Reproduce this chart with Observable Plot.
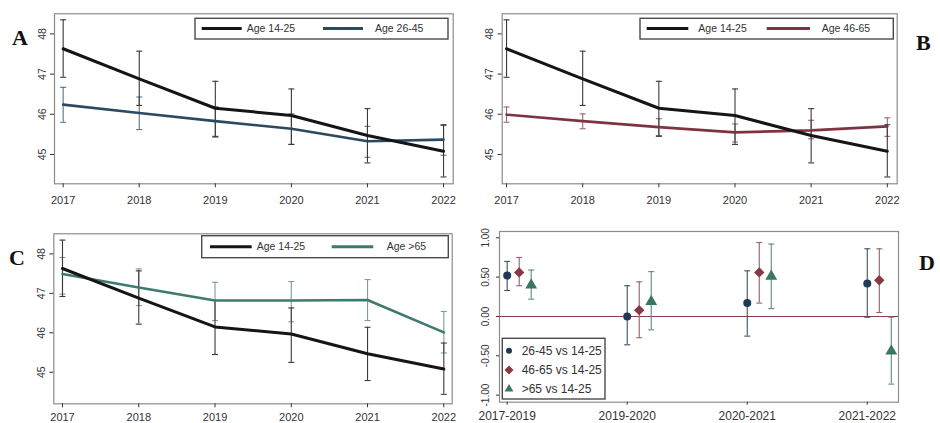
<!DOCTYPE html>
<html>
<head>
<meta charset="utf-8">
<script src="https://cdn.jsdelivr.net/npm/d3@7"></script>
<script src="https://cdn.jsdelivr.net/npm/@observablehq/plot@0.6"></script>
<style>
  html, body { margin: 0; padding: 0; background: #fff; }
  #wrap { position: relative; width: 940px; height: 423px; overflow: hidden; font-family: "Liberation Sans", Arial, sans-serif; }
  .panel { position: absolute; }
  #overlay { position: absolute; left: 0; top: 0; pointer-events: none; }
</style>
</head>
<body>
<div id="wrap"></div>
<script>
// ---------- DATA ----------
const years = [2017, 2018, 2019, 2020, 2021, 2022];
const yTicksAge = [45, 46, 47, 48];

const age1425   = [47.63, 46.88, 46.15, 45.97, 45.47, 45.08];
const age1425Lo = [46.92, 46.22, 45.45, 45.25, 44.79, 44.44];
const age1425Hi = [48.35, 47.57, 46.82, 46.63, 46.14, 45.74];

const age2645   = [46.24, 46.03, 45.83, 45.64, 45.33, 45.37];
const age2645Lo = [45.80, 45.62, 45.43, 45.25, 44.93, 44.98];
const age2645Hi = [46.67, 46.43, 46.19, 46.01, 45.70, 45.72];

const age4665   = [45.99, 45.83, 45.68, 45.55, 45.60, 45.70];
const age4665Lo = [45.80, 45.64, 45.47, 45.31, 45.39, 45.45];
const age4665Hi = [46.18, 46.01, 45.89, 45.76, 45.85, 45.91];

const age65     = [47.49, 47.15, 46.82, 46.82, 46.83, 46.01];
const age65Lo   = [46.98, 46.69, 46.31, 46.28, 46.31, 45.49];
const age65Hi   = [47.91, 47.62, 47.28, 47.30, 47.35, 46.54];

const periods = ["2017-2019", "2019-2020", "2020-2021", "2021-2022"];
const cmpLabels = ["26-45 vs 14-25", "46-65 vs 14-25", ">65 vs 14-25"];
const dTicks = [-1, -0.5, 0, 0.5, 1];

const d2645   = [0.52, 0.00, 0.17, 0.42];
const d2645Lo = [0.33, -0.36, -0.25, -0.01];
const d2645Hi = [0.70, 0.39, 0.58, 0.86];

const d4665   = [0.56, 0.08, 0.56, 0.46];
const d4665Lo = [0.39, -0.27, 0.17, 0.05];
const d4665Hi = [0.75, 0.44, 0.94, 0.86];

const d65     = [0.40, 0.19, 0.51, -0.44];
const d65Lo   = [0.22, -0.17, 0.10, -0.86];
const d65Hi   = [0.59, 0.57, 0.92, -0.01];

// ---------- STYLE ----------
const C_BLACK = "#151515", C_BLACK_ERR = "#3a3a3a";
const C_BLUE = "#2b4a62", C_BLUE_ERR = "#5d7585";
const C_RED = "#7e3440", C_RED_ERR = "#9a6870";
const C_TEAL = "#3f7a70", C_TEAL_ERR = "#7f9d97";
const FONT = "'Liberation Sans', Arial, sans-serif";

const capSym = { draw(ctx) { ctx.moveTo(-3, 0); ctx.lineTo(3, 0); } };
const wideDiamond = { draw(ctx) { const a = 5.2; ctx.moveTo(0, -a); ctx.lineTo(a, 0); ctx.lineTo(0, a); ctx.lineTo(-a, 0); ctx.closePath(); } };

const wrap = document.getElementById("wrap");

function place(node, left, top) {
  node.classList.add("panel");
  node.style.left = left + "px";
  node.style.top = top + "px";
  wrap.appendChild(node);
}

function seriesRows(name, vals, lo, hi) {
  return years.map((yr, i) => ({ key: name, year: yr, v: vals[i], lo: lo[i], hi: hi[i] }));
}

function linePanel(cfg) {
  const marks = [Plot.frame({ stroke: "#8c8c8c", strokeWidth: 1.2 })];
  const errMarks = [], lineMarks = [];
  cfg.series.forEach(s => {
    const rows = seriesRows(s.name, s.vals, s.lo, s.hi);
    errMarks.push(Plot.ruleX(rows, { x: "year", y1: "lo", y2: "hi", stroke: s.err, strokeWidth: 1.1 }));
    errMarks.push(Plot.dot(rows, { x: "year", y: "hi", symbol: capSym, stroke: s.err, fill: "none", strokeWidth: 1.1 }));
    errMarks.push(Plot.dot(rows, { x: "year", y: "lo", symbol: capSym, stroke: s.err, fill: "none", strokeWidth: 1.1 }));
    lineMarks.push(Plot.line(rows, { x: "year", y: "v", stroke: s.color, strokeWidth: s.w }));
  });
  const lm = lineMarks.slice().reverse();
  marks.push(...errMarks.slice(3), ...errMarks.slice(0, 3), ...lm);
  marks.push(Plot.axisY({ ticks: yTicksAge, tickFormat: d => String(d), tickRotate: -90, tickSize: 4, tickPadding: 5, label: null, fontSize: 10.5, color: "#333" }));
  marks.push(Plot.axisX({ ticks: years, tickFormat: d => String(d), tickSize: 4, tickPadding: cfg.xPad, label: null, fontSize: 11, color: "#333" }));
  const p = Plot.plot({
    width: cfg.width, height: cfg.height,
    marginLeft: cfg.ml, marginRight: cfg.mr, marginTop: cfg.mt, marginBottom: cfg.mb,
    x: { domain: cfg.xDomain },
    y: { domain: cfg.yDomain },
    style: { fontFamily: FONT, fontSize: "11px", color: "#333", background: "transparent", overflow: "visible" },
    marks
  });
  place(p, cfg.left, cfg.top);
}

// Panel A
linePanel({
  left: 0, top: 0, width: 470, height: 215, ml: 54, mr: 17.3, mt: 13.3, mb: 31.7, xPad: 8,
  xDomain: [2016.886, 2022.127], yDomain: [44.27, 48.5],
  series: [
    { name: "Age 14-25", vals: age1425, lo: age1425Lo, hi: age1425Hi, color: C_BLACK, err: C_BLACK_ERR, w: 3 },
    { name: "Age 26-45", vals: age2645, lo: age2645Lo, hi: age2645Hi, color: C_BLUE, err: C_BLUE_ERR, w: 2.6 }
  ]
});
// Panel B
linePanel({
  left: 470, top: 0, width: 470, height: 215, ml: 31.7, mr: 43.3, mt: 13.3, mb: 31.7, xPad: 8,
  xDomain: [2016.943, 2022.13], yDomain: [44.27, 48.5],
  series: [
    { name: "Age 14-25", vals: age1425, lo: age1425Lo, hi: age1425Hi, color: C_BLACK, err: C_BLACK_ERR, w: 3 },
    { name: "Age 46-65", vals: age4665, lo: age4665Lo, hi: age4665Hi, color: C_RED, err: C_RED_ERR, w: 2.6 }
  ]
});
// Panel C
linePanel({
  left: 0, top: 215, width: 470, height: 208, ml: 53.3, mr: 18.3, mt: 18.3, mb: 19.7, xPad: 5,
  xDomain: [2016.886, 2022.11], yDomain: [44.2, 48.51],
  series: [
    { name: "Age 14-25", vals: age1425, lo: age1425Lo, hi: age1425Hi, color: C_BLACK, err: C_BLACK_ERR, w: 3 },
    { name: "Age >65", vals: age65, lo: age65Lo, hi: age65Hi, color: C_TEAL, err: C_TEAL_ERR, w: 2.6 }
  ]
});

// Panel D
(function () {
  const dSeries = [
    { vals: d2645, lo: d2645Lo, hi: d2645Hi, color: "#1f3a55", err: "#3d5263", symbol: "circle", r: 4 },
    { vals: d4665, lo: d4665Lo, hi: d4665Hi, color: "#873845", err: "#94606a", symbol: wideDiamond, r: 4.6 },
    { vals: d65,   lo: d65Lo,   hi: d65Hi,   color: "#3a7668", err: "#5f8a80", symbol: "triangle", r: 4.4 }
  ];
  const marks = [
    Plot.frame({ stroke: "#8c8c8c", strokeWidth: 1.2 }),
    Plot.ruleY([0], { stroke: "#8e3c48", strokeWidth: 1.1 })
  ];
  dSeries.forEach((s, k) => {
    const rows = periods.map((p, i) => ({ pos: i + k * 0.1, v: s.vals[i], lo: s.lo[i], hi: s.hi[i] }));
    marks.push(Plot.ruleX(rows, { x: "pos", y1: "lo", y2: "hi", stroke: s.err, strokeWidth: 1.1 }));
    marks.push(Plot.dot(rows, { x: "pos", y: "hi", symbol: capSym, stroke: s.err, fill: "none", strokeWidth: 1.1 }));
    marks.push(Plot.dot(rows, { x: "pos", y: "lo", symbol: capSym, stroke: s.err, fill: "none", strokeWidth: 1.1 }));
    s.rows = rows;
  });
  dSeries.forEach(s => {
    marks.push(Plot.dot(s.rows, { x: "pos", y: "v", symbol: s.symbol, r: s.r, fill: s.color, stroke: "none" }));
  });
  marks.push(Plot.axisY({ ticks: dTicks, tickFormat: d => d.toFixed(2), tickRotate: -90, tickSize: 3, tickPadding: 8, label: null, fontSize: 10, color: "#333" }));
  marks.push(Plot.axisX({ ticks: [0, 1, 2, 3], tickFormat: i => periods[i], tickSize: 3, tickPadding: 6, label: null, fontSize: 12, color: "#333" }));
  const p = Plot.plot({
    width: 470, height: 208,
    marginLeft: 29, marginRight: 42, marginTop: 16, marginBottom: 21.3,
    x: { domain: [-0.064, 3.26] },
    y: { domain: [-1.09, 1.08] },
    style: { fontFamily: FONT, fontSize: "11px", color: "#333", background: "transparent", overflow: "visible" },
    marks
  });
  place(p, 470, 215);
  window.__dSeries = dSeries;
})();

// ---------- Overlay: panel letters and legends ----------
(function () {
  const svg = d3.select(wrap).append("svg")
    .attr("id", "overlay").attr("width", 940).attr("height", 423)
    .style("font-family", FONT);

  const letters = [
    { t: "A", x: 12, y: 45 }, { t: "B", x: 916, y: 50 },
    { t: "C", x: 9, y: 265 }, { t: "D", x: 919, y: 270 }
  ];
  svg.selectAll("text.letter").data(letters).join("text")
    .attr("class", "letter")
    .attr("x", d => d.x).attr("y", d => d.y)
    .attr("font-family", "'Liberation Serif', 'Times New Roman', serif")
    .attr("font-weight", "bold").attr("font-size", 22).attr("fill", "#111")
    .text(d => d.t);

  function lineLegend(box, items) {
    svg.append("rect").attr("x", box.x0).attr("y", box.y0)
      .attr("width", box.x1 - box.x0).attr("height", box.y1 - box.y0)
      .attr("fill", "#fff").attr("stroke", "#4a4a4a").attr("stroke-width", 1.4);
    items.forEach(it => {
      svg.append("line").attr("x1", it.l0).attr("x2", it.l1).attr("y1", box.ly).attr("y2", box.ly)
        .attr("stroke", it.color).attr("stroke-width", 3);
      svg.append("text").attr("x", it.tx).attr("y", box.ly + 3.6)
        .attr("font-size", 10.5).attr("fill", "#333").text(it.label);
    });
  }
  lineLegend({ x0: 195, x1: 448, y0: 18.3, y1: 39, ly: 28.5 }, [
    { l0: 201.7, l1: 241.7, tx: 246.7, color: C_BLACK, label: "Age 14-25" },
    { l0: 323, l1: 363, tx: 375, color: C_BLUE, label: "Age 26-45" }
  ]);
  lineLegend({ x0: 640, x1: 893.3, y0: 18.3, y1: 39, ly: 28.5 }, [
    { l0: 646.7, l1: 688.3, tx: 698.3, color: C_BLACK, label: "Age 14-25" },
    { l0: 766.7, l1: 810, tx: 821.7, color: C_RED, label: "Age 46-65" }
  ]);
  lineLegend({ x0: 201.7, x1: 448.3, y0: 235.7, y1: 257.7, ly: 246.7 }, [
    { l0: 210, l1: 251.7, tx: 256.7, color: C_BLACK, label: "Age 14-25" },
    { l0: 331.7, l1: 373.3, tx: 386.7, color: C_TEAL, label: "Age >65" }
  ]);

  // D legend
  const dS = window.__dSeries;
  svg.append("rect").attr("x", 502.3).attr("y", 338.3).attr("width", 102.7).attr("height", 60.7)
    .attr("fill", "#fff").attr("stroke", "#4a4a4a").attr("stroke-width", 1.4);
  const rowsY = [350.7, 370, 389];
  const legendPaths = [
    d3.symbol().type(d3.symbolCircle).size(28)(),
    "M0,-4.5L4.5,0L0,4.5L-4.5,0Z",
    d3.symbol().type(d3.symbolTriangle).size(34)()
  ];
  cmpLabels.forEach((lab, k) => {
    svg.append("path").attr("d", legendPaths[k]).attr("transform", `translate(509,${rowsY[k]})`).attr("fill", dS[k].color);
    svg.append("text").attr("x", 521.7).attr("y", rowsY[k] + 4.2)
      .attr("font-size", 12).attr("fill", "#333").text(lab);
  });
})();
</script>
</body>
</html>
